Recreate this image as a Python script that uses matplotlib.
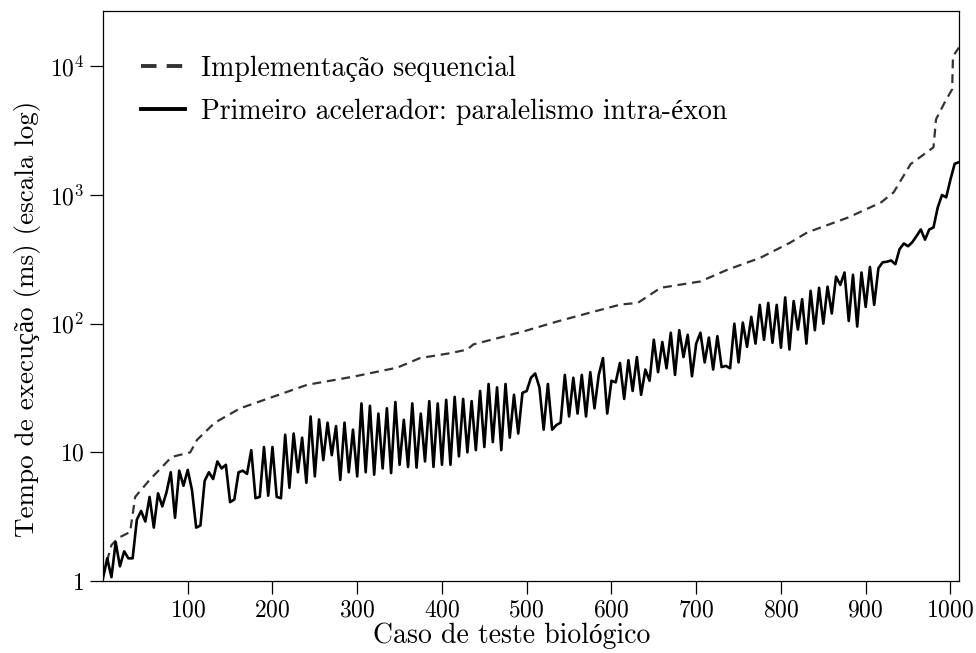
import numpy as np
import matplotlib
matplotlib.use("Agg")
import matplotlib.pyplot as plt

# sequential implementation (sorted)
seq_caso = [0, 10, 18, 32, 38, 55, 81, 103, 111, 132, 162, 197, 241, 295, 347,
            374, 410, 430, 437, 496, 536, 579, 611, 631, 658, 705, 737, 776,
            811, 831, 879, 918, 933, 953, 980, 983, 994, 1002, 1003, 1010]
seq_ms = [1.1, 1.9, 2.16, 2.4, 4.5, 6.1, 9.2, 10, 12.5, 17, 22, 26.5, 33.5, 38.7, 45.5,
          54, 59, 63, 69, 87, 104, 124, 141, 145, 190, 213, 263, 326,
          427, 512, 668, 875, 1050, 1740, 2350, 3880, 5370, 6630, 12000, 14000]

# first accelerator, one value every 5 test cases (0..1010)
acel_ms = [
    1.05, 1.5, 1.07, 2.0, 1.3, 1.7, 1.5, 1.5, 3.0, 3.5,
    2.9, 4.5, 2.6, 4.8, 3.8, 4.9, 7.0, 3.1, 7.2, 5.5,
    7.3, 5.1, 2.6, 2.7, 6.0, 7.0, 6.2, 8.5, 7.5, 8.0,
    4.1, 4.3, 7.0, 7.2, 6.8, 10.4, 4.4, 4.5, 11, 4.6,
    11, 4.5, 4.4, 13.7, 5.3, 14, 7.0, 13, 5.8, 19,
    6.5, 18, 8.7, 17, 9.5, 16, 6.1, 17, 7.0, 15,
    6.5, 24, 7.0, 23, 6.7, 20, 7.5, 22, 6.9, 24.6,
    8.0, 17.9, 7.7, 24, 7.6, 20, 8.5, 25, 7.7, 24,
    8.0, 25.6, 8.0, 27, 9.3, 26, 10, 25, 10.4, 30,
    11, 34, 12, 32, 10.4, 34, 13, 28, 14, 29,
    30, 38, 41, 32, 15, 34, 15, 16.3, 17, 40,
    19, 38, 20, 40, 19, 42, 22, 40, 54, 20,
    36, 35, 49.5, 26, 52, 30, 55, 28, 44, 36,
    75, 42, 72, 45, 85, 40, 89, 55, 82, 39,
    70, 85, 50, 78, 44, 80, 46, 47, 45, 100,
    50, 102, 66, 113, 70, 140, 75, 145, 71, 140,
    65, 160, 63, 150, 90, 155, 70, 180, 89, 190,
    100, 194, 120, 232, 200, 250, 105, 240, 95, 250,
    135, 276, 140, 270, 300, 303, 310, 290, 380, 420,
    400, 430, 480, 540, 450, 540, 560, 800, 1000, 960,
    1320, 1750, 1800]
acel_caso = np.arange(len(acel_ms)) * 5

rotulo_seq = "Implementação sequencial"
rotulo_acel = "Primeiro acelerador: paralelismo intra-éxon"

plt.rcParams['font.family'] = ['cmr10', 'Liberation Serif']
plt.rcParams['mathtext.fontset'] = 'cm'
plt.rcParams['axes.formatter.use_mathtext'] = True

fig = plt.figure(figsize=(9.76, 6.53), dpi=100)
ax = fig.add_axes([0.1055, 0.1103, 0.877, 0.873])

ax.plot(seq_caso, seq_ms, color='#333333', lw=1.6, ls=(0, (4, 2.6)), label=rotulo_seq)
ax.plot(acel_caso, acel_ms, color='black', lw=1.9, label=rotulo_acel)

ax.set_yscale('log')
ax.set_xlim(0, 1010)
ax.set_ylim(1, 2.7e4)
ax.set_yticks([1, 10, 100, 1000, 10000])
ax.set_yticklabels(['$1$', '$10$', '$10^2$', '$10^3$', '$10^4$'])
ax.yaxis.set_minor_locator(matplotlib.ticker.NullLocator())
ax.set_xticks(np.arange(100, 1001, 100))
ax.tick_params(direction='out', length=9.5, width=0.9, labelsize=17, pad=4)
for s in ax.spines.values():
    s.set_linewidth(0.9)

ax.set_xlabel("Caso de teste biológico", fontsize=20, labelpad=0)
ax.set_ylabel("Tempo de execução (ms) (escala log)", fontsize=19.5, labelpad=4)
ax.xaxis.set_label_coords(0.477, -0.073)
ax.yaxis.set_label_coords(-0.072, 0.46)

leg = ax.legend(loc='upper left', frameon=False, fontsize=20, handlelength=1.6,
                labelspacing=0.6, bbox_to_anchor=(0.015, 0.965), handletextpad=0.55)
for l in leg.get_lines():
    l.set_linewidth(2.8)

fig.savefig("out.png", dpi=100)
